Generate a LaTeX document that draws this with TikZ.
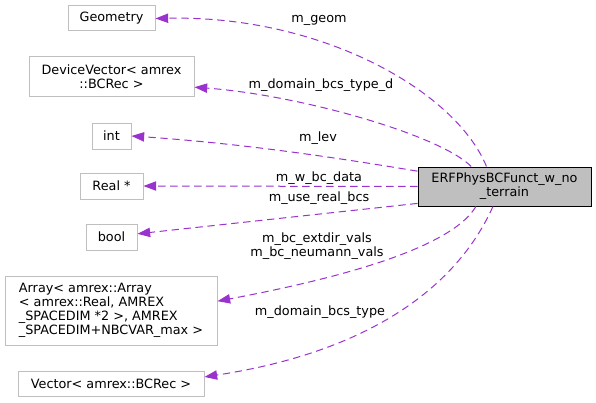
\documentclass[tikz,border=0pt]{standalone}
\usepackage{fontspec}
\setmainfont{DejaVu Sans}
\usetikzlibrary{arrows.meta}
\definecolor{usecol}{HTML}{9A32CD}
\definecolor{boxgray}{HTML}{BFBFBF}
\begin{document}
\begin{tikzpicture}[
    x=0.75pt, y=-0.75pt,
    font=\fontsize{9.6}{10.5}\selectfont,
    cls/.style={draw=boxgray, line width=0.75pt, inner sep=0pt, align=center},
    lbl/.style={inner sep=0pt, align=center},
    uses/.style={usecol, line width=0.75pt, dash pattern=on 5.5pt off 3.5pt,
                 -{Triangle[length=9.5pt, width=7pt]}},
  ]
  \useasboundingbox (0,0) rectangle (596,403);

  % --- classe principale ---
  \node[cls, draw=black, fill=boxgray, minimum width=129.75pt, minimum height=29.25pt]
       (erf) at (504.5,186.5) {ERFPhysBCFunct\_w\_no\\\_terrain};

  % --- tipi dei membri ---
  \node[cls, minimum width=65.25pt, minimum height=18.75pt] (geom) at (111.5,18.5) {Geometry};
  \node[cls, minimum width=123.75pt, minimum height=30pt] (dvec) at (111.5,77)
       {DeviceVector< amrex\\::BCRec >};
  \node[cls, minimum width=29.25pt, minimum height=19.5pt] (int) at (111.5,136) {int};
  \node[cls, minimum width=47.25pt, minimum height=19.5pt] (real) at (111.5,186) {Real *};
  \node[cls, minimum width=38.25pt, minimum height=19.5pt] (bool) at (111.5,237) {bool};
  \node[cls, align=left, minimum width=159pt, minimum height=51.75pt] (arr) at (111,310.5)
       {Array< amrex::Array\\< amrex::Real, AMREX\\\_SPACEDIM *2 >, AMREX\\\_SPACEDIM+NBCVAR\_max >};
  \node[cls, minimum width=139.5pt, minimum height=18.75pt] (vec) at (111,383.5)
       {Vector< amrex::BCRec >};

  % --- relazioni d'uso ---
  \draw[uses] (erf.132) .. controls (455,90) and (320,15) .. (geom.east);
  \draw[uses] (erf.149) .. controls (440,135) and (300,95) .. (dvec.-7);
  \draw[uses] (erf.170) .. controls (350,160) and (250,144) .. (int.east);
  \draw[uses] (erf.west) -- (real.east);
  \draw[uses] (erf.191) -- (bool.7);
  \draw[uses] (erf.215) .. controls (450,250) and (330,280) .. (arr.5);
  \draw[uses] (erf.240) .. controls (460,280) and (380,350) .. (vec.4);

  % --- nomi dei membri ---
  \node[lbl] (lgeom) at (319,20) {m\_geom};
  \node[lbl] (ldvec) at (321,85) {m\_domain\_bcs\_type\_d};
  \node[lbl] (llev) at (318,138) {m\_lev};
  \node[lbl] (lwbc) at (319,178) {m\_w\_bc\_data};
  \node[lbl] (lreal) at (319,198) {m\_use\_real\_bcs};
  \node[lbl] (lvals) at (317,246) {m\_bc\_extdir\_vals\\m\_bc\_neumann\_vals};
  \node[lbl] (ltype) at (320,312) {m\_domain\_bcs\_type};

\end{tikzpicture}
\end{document}
